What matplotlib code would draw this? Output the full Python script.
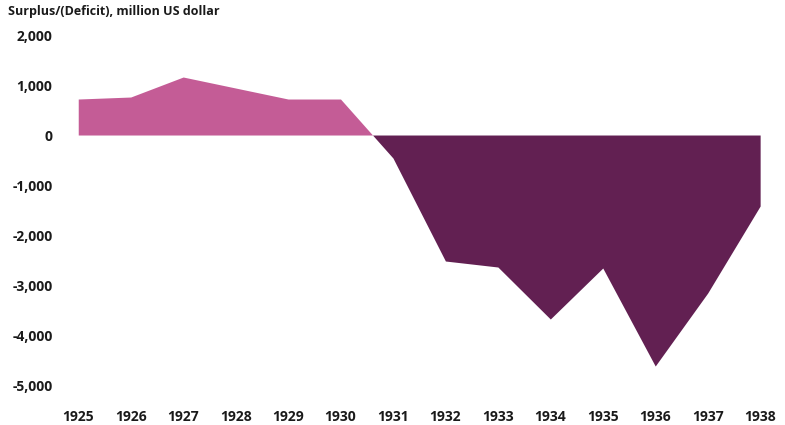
import numpy as np
import matplotlib.pyplot as plt

plt.rcParams['font.family'] = ['Open Sans', 'DejaVu Sans']

years = [1925, 1926, 1927, 1928, 1929, 1930, 1931, 1932, 1933, 1934, 1935, 1936, 1937, 1938]
balance = [720, 760, 1160, 940, 720, 720, -460, -2520, -2640, -3680, -2660, -4620, -3160, -1420]
yticks = [-5000, -4000, -3000, -2000, -1000, 0, 1000, 2000]

x = np.array(years, dtype=float)
y = np.array(balance, dtype=float)

fig = plt.figure(figsize=(7.85, 4.25), dpi=100)
ax = fig.add_axes([0.097, 0.0588, 0.874, 0.8588])

ax.fill_between(x, 0, y, where=y >= 0, interpolate=True, color='#C45C96', linewidth=0)
ax.fill_between(x, 0, y, where=y <= 0, interpolate=True, color='#622052', linewidth=0)

ax.set_xlim(1924.96, 1938.04)
ax.set_ylim(-5300, 2000)
ax.set_xticks(years)
ax.set_xticklabels([str(v) for v in years], fontsize=10, fontweight='bold', color='#1a1a1a')
ax.set_yticks(yticks)
ax.set_yticklabels([f'{v:,}' for v in yticks], fontsize=10, fontweight='bold', color='#1a1a1a')
ax.tick_params(length=0, pad=17, axis='y')
ax.tick_params(length=0, pad=7, axis='x')
for s in ax.spines.values():
    s.set_visible(False)

fig.text(0.01, 0.972, 'Surplus/(Deficit), million US dollar', fontsize=9,
         fontweight='bold', color='#1a1a1a', va='center')

fig.savefig('out.png', dpi=100)
